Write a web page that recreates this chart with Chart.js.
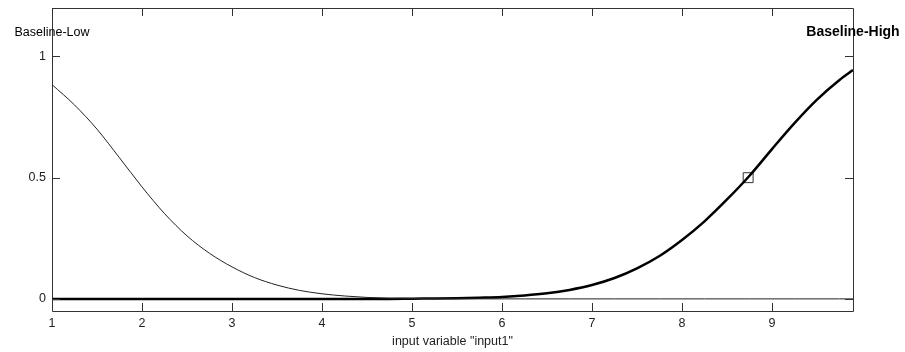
<!DOCTYPE html>
<html>
<head>
<meta charset="utf-8">
<script src="https://cdn.jsdelivr.net/npm/chart.js@4.4.1/dist/chart.umd.min.js"></script>
<style>
html,body{margin:0;padding:0;background:#fff;}
#wrap{width:905px;height:352px;position:relative;}
</style>
</head>
<body>
<div id="wrap"><canvas id="c" width="905" height="352"></canvas></div>
<script>
// input values (x)
const xValues = [1.0,1.25,1.5,1.75,2.0,2.25,2.5,2.75,3.0,3.25,3.5,3.75,4.0,4.25,4.5,4.75,5.0,5.25,5.5,5.75,6.0,6.25,6.5,6.75,7.0,7.25,7.5,7.75,8.0,8.25,8.5,8.75,9.0,9.25,9.5,9.75,9.9];
// membership "Baseline-Low"
const lowValues = [0.884,0.800,0.700,0.582,0.462,0.352,0.26,0.188,0.132,0.088,0.057,0.035,0.021,0.012,0.006,0.003,0.0015,0.0008,0.0004,0,0,0,0,0,0,0,0,0,0,0,0,0,0,0,0,0,0];
// membership "Baseline-High"
const highValues = [0,0,0,0,0,0,0,0,0,0,0,0,0,0,0,0,0.001,0.0015,0.0026,0.005,0.008,0.014,0.023,0.037,0.057,0.086,0.126,0.177,0.243,0.32,0.41,0.508,0.618,0.725,0.822,0.903,0.944];
// crossing marker
const markerX = [8.735];
const markerY = [0.5];
// tick labels
const xTicks = [1,2,3,4,5,6,7,8,9];
const yTicks = [0,0.5,1];
// MF labels
const mfNames = ["Baseline-Low","Baseline-High"];
const mfLabelX = [1.0, 9.9];
const mfLabelY = [1.1, 1.1];
const mfBold = [false, true];

const FONT = "Liberation Sans, Arial, sans-serif";

const framePlugin = {
  id: 'frame',
  afterDatasetsDraw(chart) {
    const {ctx, chartArea: a, scales: {x, y}} = chart;
    ctx.save();
    ctx.strokeStyle = '#333';
    ctx.lineWidth = 1;
    ctx.beginPath();
    ctx.rect(Math.round(a.left)+0.5, Math.round(a.top)+0.5, Math.round(a.right-a.left), Math.round(a.bottom-a.top));
    ctx.stroke();
    const L = 8;
    ctx.beginPath();
    xTicks.forEach(v => {
      const px = Math.round(x.getPixelForValue(v)) + 0.5;
      ctx.moveTo(px, a.bottom); ctx.lineTo(px, a.bottom - L);
      ctx.moveTo(px, a.top); ctx.lineTo(px, a.top + L);
    });
    yTicks.forEach(v => {
      const py = Math.round(y.getPixelForValue(v)) + 0.5;
      ctx.moveTo(a.left, py); ctx.lineTo(a.left + L, py);
      ctx.moveTo(a.right, py); ctx.lineTo(a.right - L, py);
    });
    ctx.stroke();
    // MF labels
    ctx.fillStyle = '#000';
    ctx.textAlign = 'center';
    ctx.textBaseline = 'middle';
    mfNames.forEach((n, i) => {
      ctx.font = (mfBold[i] ? 'bold 14px ' : '12.5px ') + FONT;
      ctx.fillText(n, x.getPixelForValue(mfLabelX[i]), y.getPixelForValue(mfLabelY[i]));
    });
    ctx.restore();
  }
};

new Chart(document.getElementById('c'), {
  type: 'line',
  data: {
    datasets: [
      {
        label: mfNames[0],
        data: xValues.map((v, i) => ({x: v, y: lowValues[i]})),
        borderColor: '#222', borderWidth: 1, pointRadius: 0, cubicInterpolationMode: 'monotone', fill: false
      },
      {
        label: mfNames[1],
        data: xValues.map((v, i) => ({x: v, y: highValues[i]})),
        borderColor: '#000', borderWidth: 2.5, pointRadius: 0, cubicInterpolationMode: 'monotone', fill: false
      },
      {
        type: 'scatter',
        label: 'marker',
        data: markerX.map((v, i) => ({x: v, y: markerY[i]})),
        pointStyle: 'rect', pointRadius: 7, borderColor: '#333', borderWidth: 1,
        backgroundColor: 'rgba(0,0,0,0)', showLine: false
      }
    ]
  },
  options: {
    responsive: false,
    animation: false,
    layout: {padding: {left: 0, right: 52, top: 8, bottom: 0}},
    plugins: {legend: {display: false}, tooltip: {enabled: false}},
    scales: {
      x: {
        type: 'linear', min: 1, max: 9.9,
        grid: {display: false, drawTicks: false},
        border: {display: false},
        afterBuildTicks: s => { s.ticks = xTicks.map(v => ({value: v})); },
        afterFit: s => { s.height = 41; s.paddingLeft = 0; s.paddingRight = 0; },
        ticks: {color: '#222', font: {family: FONT, size: 12.5}, padding: 5, maxRotation: 0, autoSkip: false},
        title: {display: true, text: 'input variable "input1"', color: '#222', font: {family: FONT, size: 12.5}, padding: {top: 0, bottom: 3}}
      },
      y: {
        type: 'linear', min: -0.05, max: 1.2,
        grid: {display: false, drawTicks: false},
        border: {display: false},
        afterBuildTicks: s => { s.ticks = yTicks.map(v => ({value: v})); },
        afterFit: s => { s.width = 52; s.paddingTop = 0; s.paddingBottom = 0; },
        ticks: {color: '#222', font: {family: FONT, size: 12.5}, padding: 6, callback: v => String(v)}
      }
    }
  },
  plugins: [framePlugin]
});
</script>
</body>
</html>
